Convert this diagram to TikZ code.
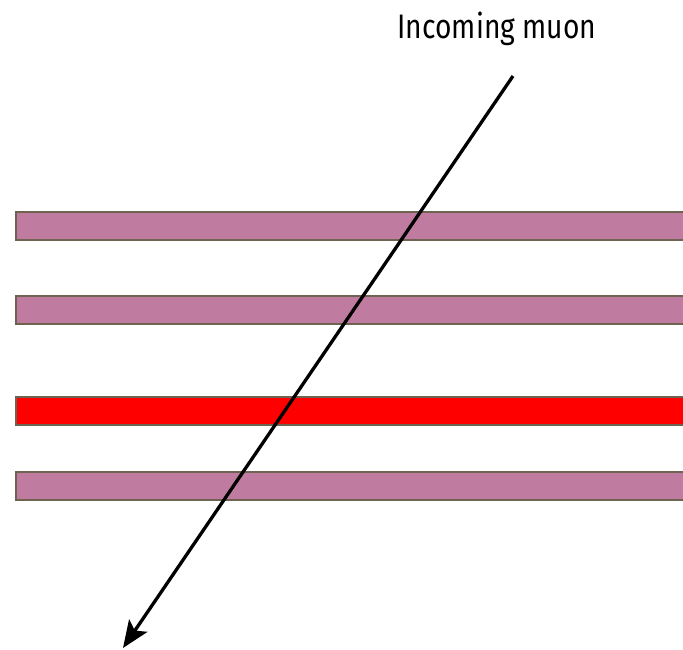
\documentclass[tikz,border=0pt]{standalone}
\usepackage{fontspec}
\setmainfont{Fira Sans}[FakeStretch=0.83]
\usetikzlibrary{arrows.meta}
\definecolor{barfill}{HTML}{C07CA0}
\definecolor{barline}{HTML}{6E6350}
\begin{document}
\begin{tikzpicture}[x=1pt,y=-1pt,
  bar/.style={draw=barline,line width=1.5pt,fill=barfill,rectangle,inner sep=0pt,minimum width=700pt,minimum height=28pt,anchor=north west},
  hotbar/.style={bar,fill=red},
  muonarrow/.style={line width=3.3pt,-{Stealth[length=27pt,width=22pt,inset=6pt]}}]
\useasboundingbox (0,0) rectangle (683,650);
\clip (0,0) rectangle (683,650);
\node[bar] (b1) at (15,211) {};
\node[bar] (b2) at (15,295) {};
\node[hotbar] (b3) at (15,396) {};
\node[bar] (b4) at (15,471) {};
\node[font=\fontsize{34}{40}\selectfont,anchor=base] (lbl) at (497,39) {Incoming muon};
\coordinate (start) at (513,76);
\coordinate (end) at (123,648);
\draw[muonarrow] (start) -- (end);
\end{tikzpicture}
\end{document}
